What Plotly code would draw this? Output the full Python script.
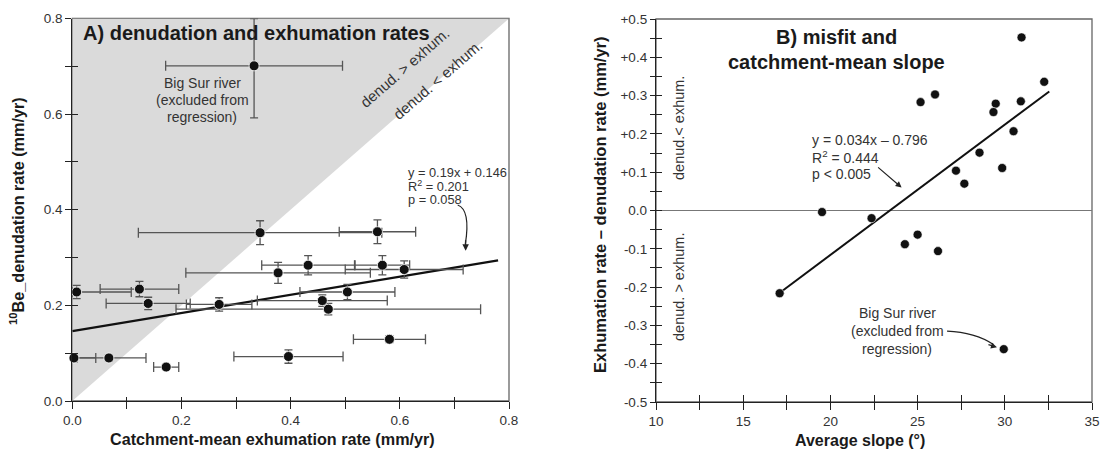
import plotly.graph_objects as go

# ---------------- Panel A data ----------------
a_exhum = [0.344, 0.559, 0.432, 0.377, 0.568, 0.608, 0.008, 0.123, 0.139, 0.269,
           0.469, 0.458, 0.504, 0.003, 0.067, 0.172, 0.396, 0.581]
a_denud = [0.352, 0.354, 0.284, 0.268, 0.284, 0.275, 0.228, 0.234, 0.204, 0.202,
           0.192, 0.210, 0.228, 0.090, 0.090, 0.071, 0.093, 0.129]
a_exhum_err = [0.223, 0.070, 0.085, 0.169, 0.050, 0.108, 0.100, 0.072, 0.077, 0.060,
               0.279, 0.119, 0.087, 0.040, 0.068, 0.023, 0.100, 0.066]
a_denud_err = [0.025, 0.025, 0.020, 0.022, 0.020, 0.018, 0.014, 0.016, 0.013, 0.014,
               0.012, 0.012, 0.016, 0.008, 0.006, 0.005, 0.014, 0.007]
bigsur_a_exhum = [0.333]
bigsur_a_denud = [0.701]
bigsur_a_exhum_err = [0.162]
bigsur_a_denud_err = [0.109]
a_fit_slope, a_fit_icpt = 0.19, 0.146
a_fit_x = [0.0, 0.78]
a_ticks = [0.0, 0.2, 0.4, 0.6, 0.8]
a_ticktext = ["0.0", "0.2", "0.4", "0.6", "0.8"]

# ---------------- Panel B data ----------------
b_slope = [30.96, 32.26, 26.00, 25.17, 29.48, 29.35, 30.92, 30.50, 28.55, 27.20,
           29.85, 27.68, 19.52, 22.36, 24.27, 25.00, 26.17, 17.09]
b_misfit = [0.452, 0.336, 0.303, 0.283, 0.279, 0.257, 0.285, 0.207, 0.151, 0.104,
            0.111, 0.070, -0.004, -0.020, -0.088, -0.063, -0.106, -0.216]
bigsur_b_slope = [29.94]
bigsur_b_misfit = [-0.362]
b_fit_slope, b_fit_icpt = 0.034, -0.796
b_fit_x = [17.1, 32.55]
b_yticks = [-0.5, -0.4, -0.3, -0.2, -0.1, 0.0, 0.1, 0.2, 0.3, 0.4, 0.5]
b_yticktext = ["-0.5", "-0.4", "-0.3", "-0.2", "-0.1", "0.0",
               "+0.1", "+0.2", "+0.3", "+0.4", "+0.5"]
b_xticks = [10, 15, 20, 25, 30, 35]

FONT = "Liberation Sans, Arial, sans-serif"
W, H = 1104, 449
ERRC = "#555555"
TXT = "#333333"


def px(xp):
    return xp / W


def py(yp):
    return 1 - yp / H


fig = go.Figure()

# ---- Panel A ----
fig.add_trace(go.Scatter(
    x=a_fit_x, y=[a_fit_slope * v + a_fit_icpt for v in a_fit_x],
    mode="lines", line=dict(color="#111111", width=2.2),
    xaxis="x", yaxis="y", showlegend=False, hoverinfo="skip"))

fig.add_trace(go.Scatter(
    x=a_exhum, y=a_denud, mode="markers",
    marker=dict(color="#111111", size=10, line=dict(color="white", width=0.8)),
    error_x=dict(type="data", array=a_exhum_err,
                 arrayminus=[min(e, v) for e, v in zip(a_exhum_err, a_exhum)],
                 color=ERRC, thickness=1.3, width=5),
    error_y=dict(type="data", array=a_denud_err, color=ERRC, thickness=1.3, width=4),
    xaxis="x", yaxis="y", showlegend=False, cliponaxis=False))

fig.add_trace(go.Scatter(
    x=bigsur_a_exhum, y=bigsur_a_denud, mode="markers",
    marker=dict(color="#111111", size=10, line=dict(color="white", width=0.8)),
    error_x=dict(type="data", array=bigsur_a_exhum_err, color=ERRC, thickness=1.3, width=5),
    error_y=dict(type="data",
                 array=[min(e, 0.8 - v) for e, v in zip(bigsur_a_denud_err, bigsur_a_denud)],
                 arrayminus=bigsur_a_denud_err, color=ERRC, thickness=1.3, width=4),
    xaxis="x", yaxis="y", showlegend=False, cliponaxis=False))

# ---- Panel B ----
fig.add_trace(go.Scatter(
    x=b_fit_x, y=[b_fit_slope * v + b_fit_icpt for v in b_fit_x],
    mode="lines", line=dict(color="#111111", width=2),
    xaxis="x2", yaxis="y2", showlegend=False, hoverinfo="skip"))
fig.add_trace(go.Scatter(
    x=b_slope + bigsur_b_slope, y=b_misfit + bigsur_b_misfit, mode="markers",
    marker=dict(color="#111111", size=9, line=dict(color="white", width=0.6)),
    xaxis="x2", yaxis="y2", showlegend=False, cliponaxis=False))

# dummy traces for overlay (inside-tick) axes
fig.add_trace(go.Scatter(x=[None], y=[None], xaxis="x3", yaxis="y3", showlegend=False))
fig.add_trace(go.Scatter(x=[None], y=[None], xaxis="x4", yaxis="y4", showlegend=False))

A_X = [px(72.3), px(509)]
A_Y = [py(401), py(18.5)]
B_X = [px(656), px(1092)]
B_Y = [py(402), py(19)]

tickfont = dict(family=FONT, size=13.5, color=TXT)
axis_common = dict(showgrid=False, zeroline=False, showline=True, linecolor="#222222",
                   linewidth=1.3, tickcolor="#222222", tickwidth=1.2, tickfont=tickfont)

fig.update_layout(
    width=W, height=H, margin=dict(l=0, r=0, t=0, b=0, autoexpand=False),
    paper_bgcolor="white", plot_bgcolor="white",
    font=dict(family=FONT, color=TXT),
    xaxis=dict(domain=A_X, anchor="y", range=[0, 0.8], tickvals=a_ticks, ticktext=a_ticktext,
               ticks="outside", ticklen=7,
               minor=dict(dtick=0.1, tick0=0, ticks="outside", ticklen=7, tickcolor="#222222", tickwidth=1.2),
               **axis_common),
    yaxis=dict(domain=A_Y, anchor="x", range=[0, 0.8], tickvals=a_ticks, ticktext=a_ticktext,
               ticks="outside", ticklen=6,
               minor=dict(dtick=0.1, tick0=0, ticks="outside", ticklen=6, tickcolor="#222222", tickwidth=1.2),
               **axis_common),
    xaxis3=dict(overlaying="x", anchor="y", side="bottom", range=[0, 0.8], dtick=0.1, tick0=0,
                ticks="inside", ticklen=4, tickcolor="#222222", tickwidth=1.2,
                showticklabels=False, showgrid=False, zeroline=False, showline=False),
    yaxis3=dict(overlaying="y", anchor="x", side="left", range=[0, 0.8], dtick=0.1, tick0=0,
                ticks="inside", ticklen=6, tickcolor="#222222", tickwidth=1.2,
                showticklabels=False, showgrid=False, zeroline=False, showline=False),
    xaxis2=dict(domain=B_X, anchor="y2", range=[10, 35], tickvals=b_xticks,
                ticks="outside", ticklen=7,
                minor=dict(dtick=2.5, tick0=10, ticks="outside", ticklen=7, tickcolor="#222222", tickwidth=1.2),
                **axis_common),
    yaxis2=dict(domain=B_Y, anchor="x2", range=[-0.5, 0.5], tickvals=b_yticks, ticktext=b_yticktext,
                ticks="outside", ticklen=5,
                minor=dict(dtick=0.05, tick0=0, ticks="outside", ticklen=5, tickcolor="#222222", tickwidth=1.2),
                **{**axis_common, "zeroline": True}, zerolinecolor="#777777", zerolinewidth=1.2),
    xaxis4=dict(overlaying="x2", anchor="y2", side="bottom", range=[10, 35], dtick=2.5, tick0=10,
                ticks="inside", ticklen=7, tickcolor="#222222", tickwidth=1.2,
                showticklabels=False, showgrid=False, zeroline=False, showline=False),
    yaxis4=dict(overlaying="y2", anchor="x2", side="left", range=[-0.5, 0.5], dtick=0.05, tick0=0,
                ticks="inside", ticklen=6, tickcolor="#222222", tickwidth=1.2,
                showticklabels=False, showgrid=False, zeroline=False, showline=False),
)

shapes = [
    # shaded region above the 1:1 line (denudation > exhumation)
    dict(type="path", xref="x", yref="y", path="M 0,0 L 0.8,0.8 L 0,0.8 Z",
         fillcolor="#dadada", line=dict(width=0), layer="below"),
    dict(type="rect", xref="x domain", yref="y domain", x0=0, x1=1, y0=0, y1=1,
         line=dict(color="#666666", width=1.3), layer="below"),
    dict(type="rect", xref="x2 domain", yref="y2 domain", x0=0, x1=1, y0=0, y1=1,
         line=dict(color="#666666", width=1.3), layer="below"),
    # curved arrow panel A
    dict(type="path", xref="x", yref="y",
         path="M 0.706,0.410 Q 0.730,0.400 0.720,0.328",
         line=dict(color="#222222", width=1.2)),
    # curved arrow panel B (Big Sur)
    dict(type="path", xref="x2", yref="y2",
         path="M 26.69,-0.315 Q 28.3,-0.318 29.35,-0.350",
         line=dict(color="#222222", width=1.2)),
]
fig.update_layout(shapes=shapes)

ann = []


def text(x, y, s, size, bold=False, xanchor="left", color=TXT, angle=0):
    ann.append(dict(xref="paper", yref="paper", x=x, y=y, text=("<b>%s</b>" % s) if bold else s,
                    showarrow=False, xanchor=xanchor, yanchor="middle", textangle=angle,
                    font=dict(family=FONT, size=size, color=color)))


# Panel A texts
text(px(81), py(33), "A) denudation and exhumation rates", 20, bold=True, color="#1a1a1a")
for s, yy in zip(["Big Sur river", "(excluded from", "regression)"], [82.5, 99.5, 117]):
    text(px(202), py(yy), s, 14, xanchor="center")
for s, yy in zip(["y = 0.19x + 0.146", "R<sup>2</sup> = 0.201", "p = 0.058"], [172, 185.5, 199]):
    text(px(406), py(yy), s, 12.8)
text(px(405), py(68), "denud. > exhum.", 15, xanchor="center", angle=-41)
text(px(438), py(80), "denud. < exhum.", 15, xanchor="center", angle=-41)
text(px(272), py(439), "Catchment-mean exhumation rate (mm/yr)", 16.2, bold=True, xanchor="center", color="#1a1a1a")
text(px(17), py(211), "<sup>10</sup>Be_denudation rate (mm/yr)", 16.2, bold=True, xanchor="center",
     color="#1a1a1a", angle=-90)

# Panel B texts
text(px(836.5), py(37), "B) misfit and", 20, bold=True, xanchor="center", color="#1a1a1a")
text(px(836.5), py(62), "catchment-mean slope", 20, bold=True, xanchor="center", color="#1a1a1a")
for s, yy in zip(["y = 0.034x \u2013 0.796", "R<sup>2</sup> = 0.444", "p < 0.005"], [139.5, 156.5, 173.5]):
    text(px(810), py(yy), s, 14)
for s, yy in zip(["Big Sur river", "(excluded from", "regression)"], [312.5, 330.5, 348.5]):
    text(px(897), py(yy), s, 14, xanchor="center")
text(px(679), py(128), "denud.< exhum.", 14.5, xanchor="center", angle=-90)
text(px(679), py(287), "denud. > exhum.", 14.5, xanchor="center", angle=-90)
text(px(860), py(440), "Average slope (\u00b0)", 16, bold=True, xanchor="center", color="#1a1a1a")
text(px(600), py(205), "Exhumation rate \u2013 denudation rate (mm/yr)", 16.5, bold=True, xanchor="center",
     color="#1a1a1a", angle=-90)

# arrowheads
ann.append(dict(xref="x", yref="y", x=0.7205, y=0.314, ax=0, ay=-12, showarrow=True,
                arrowhead=2, arrowsize=1, arrowwidth=1.3, arrowcolor="#222222", text=""))
ann.append(dict(xref="x2", yref="y2", x=24.08, y=0.060, axref="x2", ayref="y2", ax=22.65, ay=0.116,
                showarrow=True, arrowhead=2, arrowsize=1, arrowwidth=1.2, arrowcolor="#222222", text=""))
ann.append(dict(xref="x2", yref="y2", x=29.55, y=-0.357, ax=-10, ay=-3, showarrow=True,
                arrowhead=2, arrowsize=1, arrowwidth=1.2, arrowcolor="#222222", text=""))

fig.update_layout(annotations=ann)
fig.write_html("out.html")
